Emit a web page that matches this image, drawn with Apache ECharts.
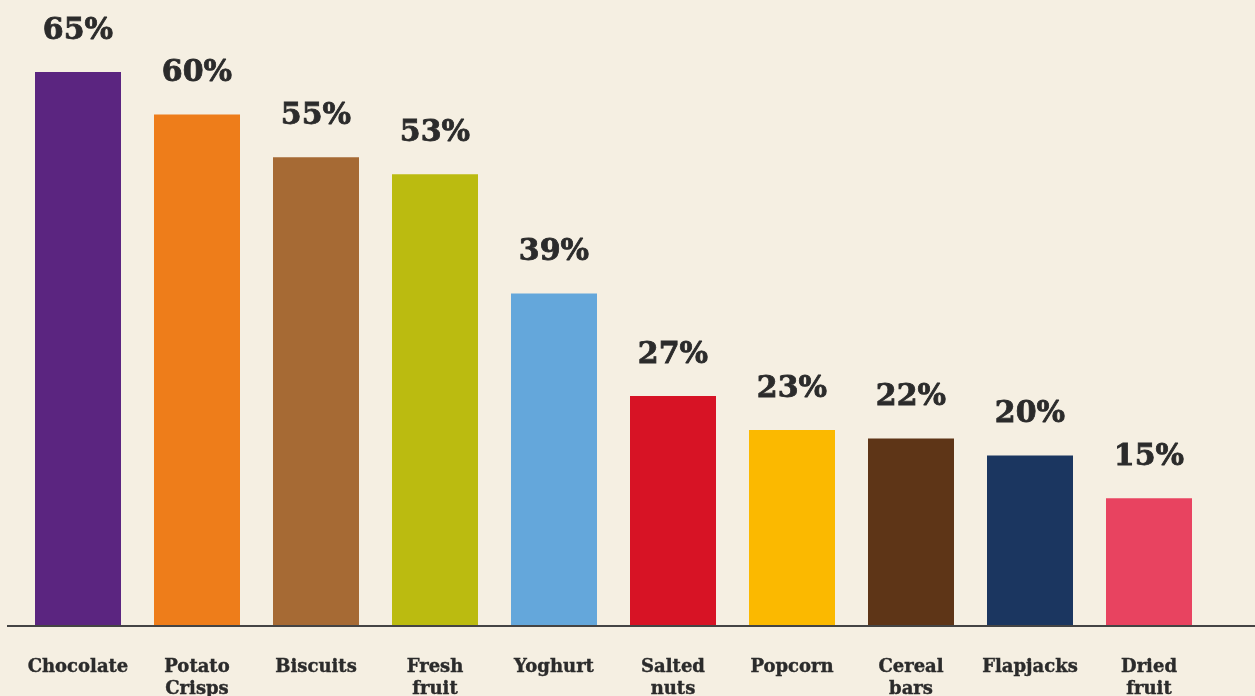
<!DOCTYPE html>
<html><head><meta charset="utf-8">
<script src="https://cdn.jsdelivr.net/npm/echarts@6/dist/echarts.min.js"></script>
<style>html,body{margin:0;padding:0;background:#f5efe2;}#c{width:1255px;height:696px;}</style>
</head><body><div id="c"></div>
<script>
const categories = ["Chocolate", "Potato\nCrisps", "Biscuits", "Fresh\nfruit", "Yoghurt", "Salted\nnuts", "Popcorn", "Cereal\nbars", "Flapjacks", "Dried\nfruit"];
const values = [65, 60, 55, 53, 39, 27, 23, 22, 20, 15];
const colors = ["#5b2580", "#ee7d1a", "#a66a34", "#bbbb10", "#64a7db", "#d71325", "#fbb900", "#5e3517", "#1b3660", "#e84360"];

const chart = echarts.init(document.getElementById('c'));
const font = '"DejaVu Serif", "Liberation Serif", serif';
chart.setOption({
  backgroundColor: '#f5efe2',
  animation: false,
  grid: {left: 18.5, width: 1190, top: 72, bottom: 70, containLabel: false, outerBoundsMode: 'none'},
  graphic: [{type: 'line', shape: {x1: 7, y1: 626, x2: 1255, y2: 626}, style: {stroke: '#444444', lineWidth: 2}, z: 10}],
  xAxis: {
    type: 'category', data: categories,
    axisLine: {show: false}, axisTick: {show: false},
    axisLabel: {color: '#2b2b2b', fontFamily: font, fontWeight: 'bold', fontSize: 18, lineHeight: 22, margin: 30, interval: 0,
      textBorderColor: '#2b2b2b', textBorderWidth: 0.4}
  },
  yAxis: {type: 'value', min: 0, max: 65, show: false, splitLine: {show: false}},
  series: [{
    type: 'bar', barWidth: 86,
    data: values.map((v, i) => ({value: v, itemStyle: {color: colors[i]}})),
    label: {show: true, position: 'top', distance: 26, formatter: '{c}%', color: '#2b2b2b', fontFamily: font, fontWeight: 'bold', fontSize: 30,
      textBorderColor: '#2b2b2b', textBorderWidth: 0.8}
  }]
});
</script></body></html>
